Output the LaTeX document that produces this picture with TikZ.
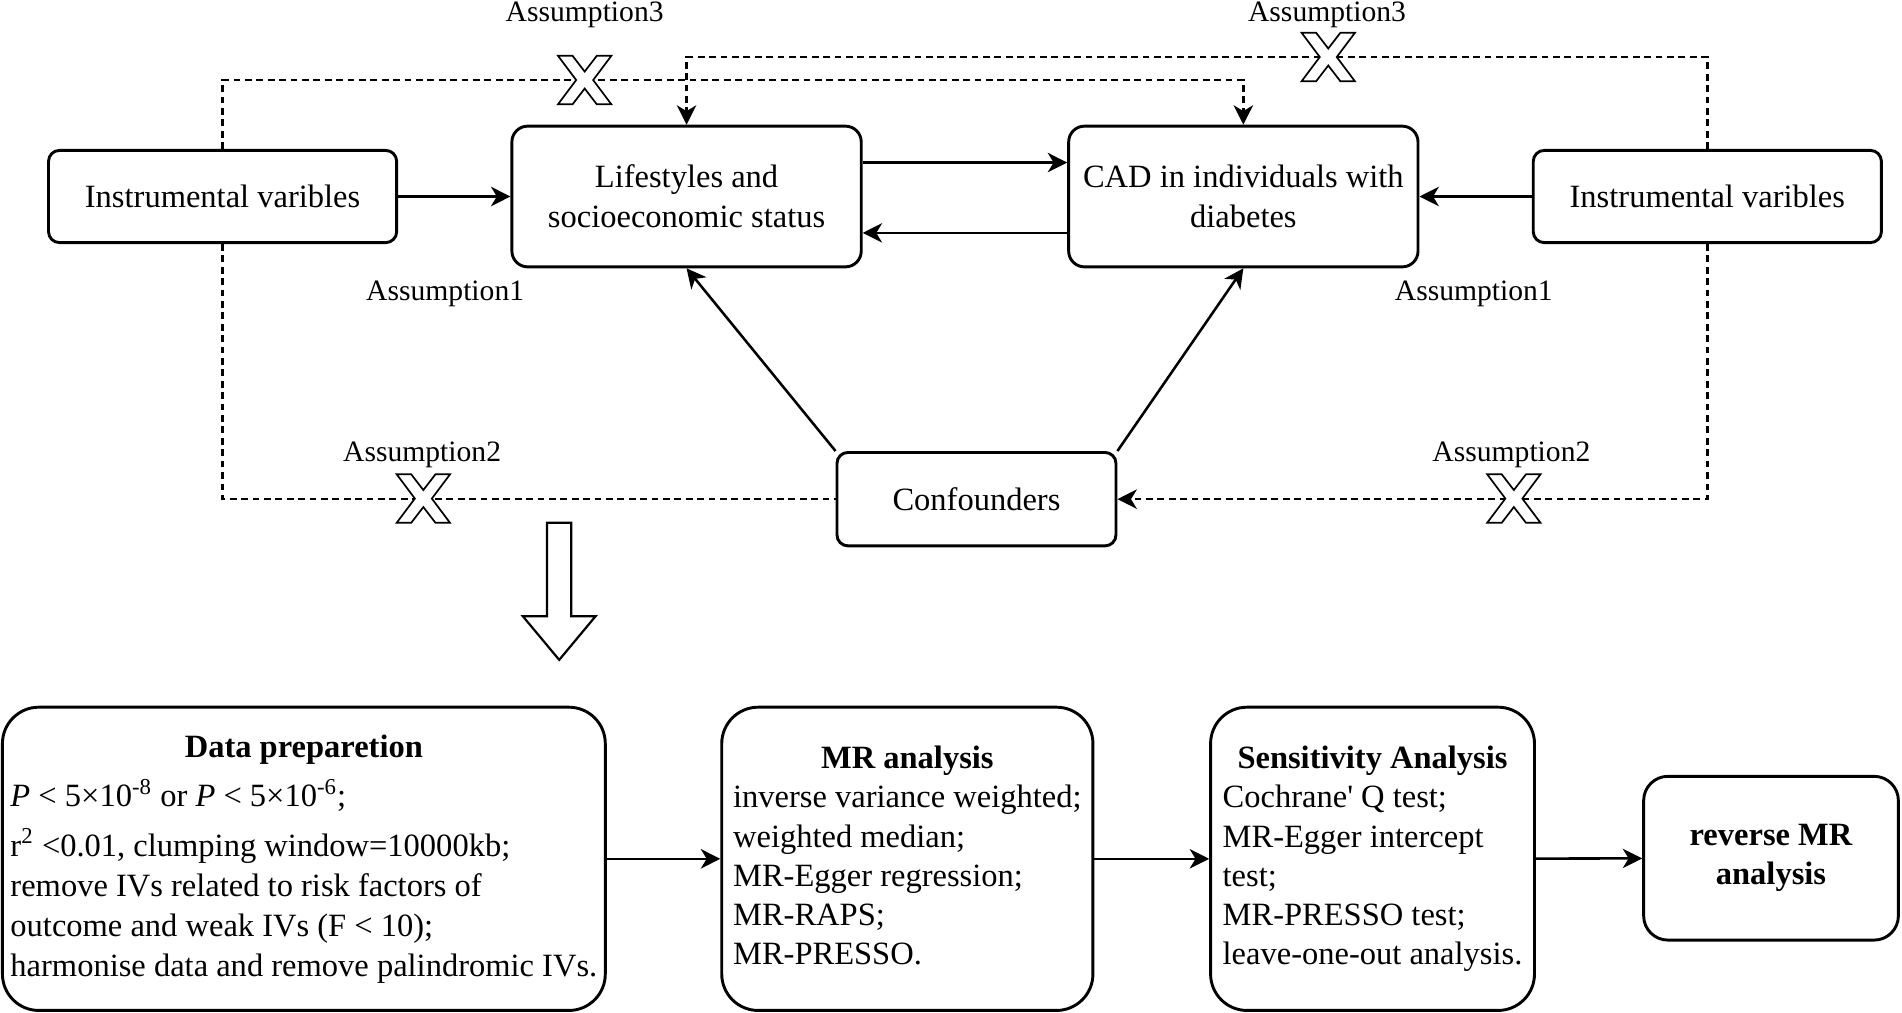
\documentclass[tikz,border=0pt]{standalone}
\usepackage{fontspec}
\setmainfont{Liberation Serif}
\usetikzlibrary{arrows.meta}
\newcommand{\mfont}{\fontsize{13.4}{16.5}\selectfont}
\newcommand{\mfontb}{\fontsize{13.4}{16.2}\selectfont}
\newcommand{\lfont}{\fontsize{12.2}{14}\selectfont}
\tikzset{
  box/.style={draw, line width=1.2pt, rounded corners=#1, inner sep=0pt, align=center, font=\mfont},
  box/.default=4.5pt,
  harrow/.style={-{Stealth[length=8pt,width=8pt,inset=2.4pt]}},
  solidline/.style={line width=1.05pt},
  dashline/.style={line width=1pt, dash pattern=on 2.8pt off 1.9pt},
  lab/.style={font=\lfont, inner sep=0pt},
  xmark/.pic={\draw[line width=0.7pt, fill=white] (-22,-20) -- (-10,-20) -- (0,-7) -- (10,-20) -- (22,-20) -- (7,0) -- (22,20) -- (10,20) -- (0,7) -- (-10,20) -- (-22,20) -- (-7,0) -- cycle;},
}
\begin{document}
\begin{tikzpicture}[x=0.5pt,y=-0.5pt]
\useasboundingbox (0,0) rectangle (1568,835);
% top row
\node[box, minimum width=143.5pt, minimum height=38pt] (ivl) at (183.5,162) {Instrumental varibles};
\node[box=6.5pt, minimum width=144pt, minimum height=58pt] (ls) at (566,162) {Lifestyles and\\socioeconomic status};
\node[box=6.5pt, minimum width=144pt, minimum height=58pt] (cad) at (1025,162) {CAD in individuals with\\diabetes};
\node[box, minimum width=143.5pt, minimum height=38pt] (ivr) at (1407.5,162) {Instrumental varibles};
\node[box, minimum width=115pt, minimum height=38.5pt] (conf) at (805,411.5) {Confounders};
% bottom row
\node[box=15pt, minimum width=248.5pt, minimum height=125pt] (data) at (250.5,708) {\begin{tabular}{@{}l@{}}\multicolumn{1}{@{}c@{}}{\textbf{Data preparetion}}\\[4pt]
\textit{P} < 5×10\textsuperscript{-8} or \textit{P} < 5×10\textsuperscript{-6};\\[4pt]
r\textsuperscript{2} <0.01, clumping window=10000kb;\\
remove IVs related to risk factors of\\
outcome and weak IVs (F < 10);\\
harmonise data and remove palindromic IVs.\end{tabular}};
\node[box=15pt, minimum width=153pt, minimum height=125pt, font=\mfontb] (mr) at (748,708) {\begin{tabular}{@{}l@{}}\multicolumn{1}{@{}c@{}}{\textbf{MR analysis}}\\
inverse variance weighted;\\
weighted median;\\
MR-Egger regression;\\
MR-RAPS;\\
MR-PRESSO.\end{tabular}};
\node[box=15pt, minimum width=133.5pt, minimum height=125pt, font=\mfontb] (sens) at (1131.5,708) {\begin{tabular}{@{}l@{}}\multicolumn{1}{@{}c@{}}{\textbf{Sensitivity Analysis}}\\
Cochrane\textquotesingle{} Q test;\\
MR-Egger intercept\\
test;\\
MR-PRESSO test;\\
leave-one-out analysis.\end{tabular}};
\node[box=10pt, minimum width=105pt, minimum height=67.5pt, font=\fontsize{13.4}{16}\selectfont\bfseries] (rev) at (1460,707.5) {reverse MR\\analysis};
% solid arrows
\draw[solidline, harrow] (ivl) -- (ls);
\draw[solidline, harrow] ([yshift=14pt]ls.east) -- ([yshift=14pt]cad.west);
\draw[solidline, harrow] ([yshift=-15pt]cad.west) -- ([yshift=-15pt]ls.east);
\draw[solidline, harrow] (ivr) -- (cad);
\draw[solidline, harrow] (conf.north west) -- (ls.south);
\draw[solidline, harrow] (conf.north east) -- (cad.south);
\draw[solidline, harrow] (data) -- (mr);
\draw[solidline, harrow] (mr) -- (sens);
\draw[solidline, harrow] (sens) -- (rev);
% dashed connectors
\coordinate (ya) at (0,66);
\coordinate (yb) at (0,47);
\draw[dashline, harrow] (ivl.north) -- (ivl.north |- ya) -- (cad.north |- ya) -- (cad.north);
\draw[dashline, harrow] (ivr.north) -- (ivr.north |- yb) -- (ls.north |- yb) -- (ls.north);
\draw[dashline] (ivl.south) -- (ivl.south |- conf.west) -- (conf.west);
\draw[dashline, harrow] (ivr.south) -- (ivr.south |- conf.east) -- (conf.east);
% X marks
\pic (x1) at (482,66) {xmark};
\pic (x2) at (1095,47) {xmark};
\pic (x3) at (349,411) {xmark};
\pic (x4) at (1248,411) {xmark};
% labels
\node[lab] (a3l) at (482,12) {Assumption3};
\node[lab] (a3r) at (1094,12) {Assumption3};
\node[lab] (a1l) at (367,242) {Assumption1};
\node[lab] (a1r) at (1215,242) {Assumption1};
\node[lab] (a2l) at (348,375) {Assumption2};
\node[lab] (a2r) at (1246,375) {Assumption2};
% hollow down arrow
\draw[line width=0.9pt] (451,431) -- (471,431) -- (471,508) -- (491,508) -- (461,544) -- (431,508) -- (451,508) -- cycle;
\end{tikzpicture}
\end{document}
